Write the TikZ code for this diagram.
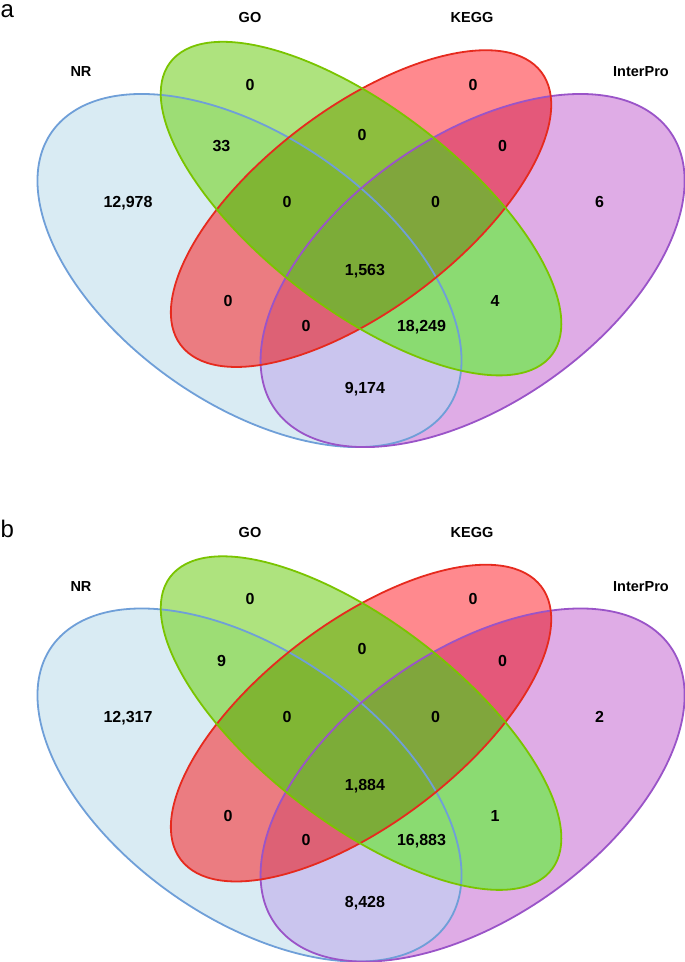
\documentclass[tikz,border=0pt]{standalone}
\usepackage{fontspec}
\setmainfont{Liberation Sans}

% fills of the single sets and of every overlap
\definecolor{nrfill}{HTML}{D9EBF3}
\definecolor{gofill}{HTML}{AEE37E}
\definecolor{keggfill}{HTML}{FF898E}
\definecolor{iprofill}{HTML}{DFACE6}
\definecolor{nrgo}{HTML}{9DDD75}
\definecolor{nrkegg}{HTML}{EB7C81}
\definecolor{nripro}{HTML}{CAC5EE}
\definecolor{gokegg}{HTML}{8DBE3E}
\definecolor{goipro}{HTML}{8BDB72}
\definecolor{keggipro}{HTML}{E4587A}
\definecolor{nrgokegg}{HTML}{80B634}
\definecolor{nrgoipro}{HTML}{8ADB71}
\definecolor{nrkeggipro}{HTML}{DD6175}
\definecolor{gokeggipro}{HTML}{80A63C}
\definecolor{allsets}{HTML}{7CAC38}
% outlines
\definecolor{nrline}{HTML}{6F9FD8}
\definecolor{goline}{HTML}{7AC400}
\definecolor{keggline}{HTML}{E62A1E}
\definecolor{iproline}{HTML}{9A54C8}

\tikzset{
  nr/.style={shift={(.35,.47)},rotate=-45,x radius=.35pt,y radius=.2pt},
  go/.style={shift={(.5,.57)},rotate=-45,x radius=.35pt,y radius=.15pt},
  kegg/.style={shift={(.5,.57)},rotate=45,x radius=.329pt,y radius=.15pt},
  ipro/.style={shift={(.65,.47)},rotate=45,x radius=.35pt,y radius=.2pt},
  rim/.style={line width=1.8pt},
  num/.style={anchor=base,inner sep=0pt,font=\bfseries\fontsize{16}{19}\selectfont},
  setname/.style={anchor=base,inner sep=0pt,font=\bfseries\fontsize{14.5}{17}\selectfont},
  panel/.style={anchor=base west,inner sep=0pt,font=\fontsize{24}{29}\selectfont}
}

\newcommand\twofill[3]{\begin{scope}\clip[#1] (0,0) ellipse; \fill[#3,#2] (0,0) ellipse;\end{scope}}
\newcommand\threefill[4]{\begin{scope}\clip[#1] (0,0) ellipse; \clip[#2] (0,0) ellipse; \fill[#4,#3] (0,0) ellipse;\end{scope}}
\newcommand\vennsets{%
  % single sets
  \fill[nrfill,nr] (0,0) ellipse;
  \fill[iprofill,ipro] (0,0) ellipse;
  \fill[keggfill,kegg] (0,0) ellipse;
  \fill[gofill,go] (0,0) ellipse;
  % two sets
  \twofill{nr}{go}{nrgo}
  \twofill{nr}{kegg}{nrkegg}
  \twofill{nr}{ipro}{nripro}
  \twofill{go}{kegg}{gokegg}
  \twofill{go}{ipro}{goipro}
  \twofill{kegg}{ipro}{keggipro}
  % three sets
  \threefill{nr}{go}{kegg}{nrgokegg}
  \threefill{nr}{go}{ipro}{nrgoipro}
  \threefill{nr}{kegg}{ipro}{nrkeggipro}
  \threefill{go}{kegg}{ipro}{gokeggipro}
  % all four
  \begin{scope}
    \clip[nr] (0,0) ellipse; \clip[go] (0,0) ellipse; \clip[kegg] (0,0) ellipse;
    \fill[allsets,ipro] (0,0) ellipse;
  \end{scope}
  % outlines
  \draw[rim,nrline,nr] (0,0) ellipse;
  \draw[rim,iproline,ipro] (0,0) ellipse;
  \draw[rim,keggline,kegg] (0,0) ellipse;
  \draw[rim,goline,go] (0,0) ellipse;
}
\newcommand\vennnames[1]{%
  \node[setname] (#1-go) at (250,22.5) {GO};
  \node[setname] (#1-kegg) at (472,22.5) {KEGG};
  \node[setname] (#1-nr) at (81,76.5) {NR};
  \node[setname] (#1-ipro) at (641,76.5) {InterPro};
}

\begin{document}
\begin{tikzpicture}[x=1pt,y=1pt,yscale=-1]
\useasboundingbox (0,0) rectangle (685,962);

% panel a
\begin{scope}[shift={(-10.8,561.6)},xscale=743.7,yscale=-619.3]
  \vennsets
\end{scope}
\node[panel] (tag-a) at (0.5,17) {a};
\vennnames{a}

% panel b
\begin{scope}[shift={(0,514.5)}]
  \begin{scope}[shift={(-10.8,561.6)},xscale=743.7,yscale=-619.3]
    \vennsets
  \end{scope}
  \node[panel] (tag-b) at (0.5,22.5) {b};
  \vennnames{b}
\end{scope}

% counts: x / y / panel a / panel b
\foreach \x/\y/\ca/\cb [count=\i] in {
    250/90/0/0, 473/90/0/0, 221.5/151.7/33/9, 362/140/0/0, 502.5/151.7/0/0,
    128/207.7/{12,978}/{12,317}, 287/207.7/0/0, 435.5/207.7/0/0, 599.5/207.7/6/2,
    365/275.7/{1,563}/{1,884}, 228/306.7/0/0, 495/306.7/4/1, 306/331/0/0,
    421.5/331/{18,249}/{16,883}, 365/393.3/{9,174}/{8,428}}{
  \node[num] (a-n\i) at (\x,\y) {\ca};
  \node[num] (b-n\i) at (\x,\y+514.5) {\cb};
}
\end{tikzpicture}
\end{document}
